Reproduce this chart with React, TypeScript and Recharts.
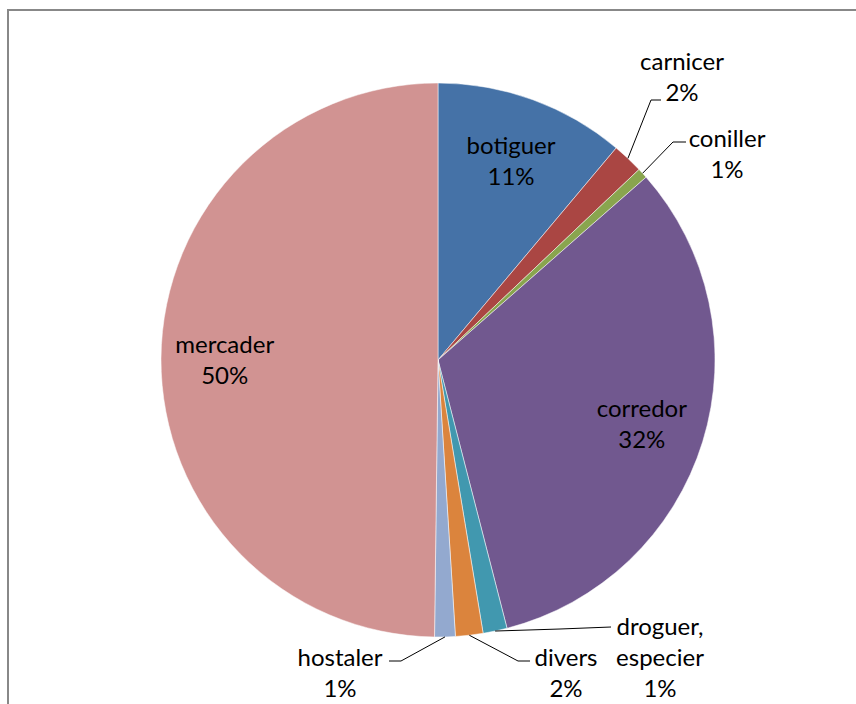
import React from 'react';
import { PieChart, Pie, Cell } from 'recharts';

const names = ['botiguer', 'carnicer', 'coniller', 'corredor', 'droguer, especier', 'divers', 'hostaler', 'mercader'];
const values = [11.1, 1.8, 0.6, 32.4, 1.4, 1.6, 1.2, 49.7];
const colors = ['#4572A7', '#AA4643', '#89A54E', '#71588F', '#4198AF', '#DB843D', '#93A9CF', '#D19392'];

const data = names.map((name, i) => ({ name, value: values[i] }));
const total = values.reduce((a, b) => a + b, 0);

const FONT = 'Lato, "Noto Sans", sans-serif';
const FS = 24;
const LINE = 31;

// outside labels: text anchor point, elbow of the leader line, line end
type Outside = { x: number; y: number; elbow: [number, number]; end: [number, number] };
const outside: Record<string, Outside> = {
  carnicer: { x: 682, y: 60, elbow: [651, 100], end: [661, 100] },
  coniller: { x: 727, y: 137, elbow: [673, 142], end: [686, 142] },
  'droguer, especier': { x: 660, y: 625, elbow: [560, 629], end: [611, 627] },
  divers: { x: 566, y: 656, elbow: [518, 661], end: [530, 661] },
  hostaler: { x: 340, y: 656, elbow: [401, 661], end: [389, 661] },
};

const RAD = Math.PI / 180;

function renderLabel(props: any) {
  const { cx, cy, midAngle, outerRadius, name, value, index } = props;
  const pct = `${Math.round((value / total) * 100)}%`;
  const o = outside[name];
  if (!o) {
    const r = outerRadius * 0.77;
    const x = cx + r * Math.cos(-midAngle * RAD);
    const y = cy + r * Math.sin(-midAngle * RAD);
    return (
      <g key={`l${index}`}>
        <text x={x} y={y - LINE / 2} textAnchor="middle" dominantBaseline="central" fill="#000" fontFamily={FONT} fontSize={FS}>{name}</text>
        <text x={x} y={y + LINE / 2} textAnchor="middle" dominantBaseline="central" fill="#000" fontFamily={FONT} fontSize={FS}>{pct}</text>
      </g>
    );
  }
  const sx = cx + outerRadius * Math.cos(-midAngle * RAD);
  const sy = cy + outerRadius * Math.sin(-midAngle * RAD);
  const lines = name === 'droguer, especier' ? ['droguer,', 'especier'] : [name];
  return (
    <g key={`l${index}`}>
      <polyline points={`${sx},${sy} ${o.elbow[0]},${o.elbow[1]} ${o.end[0]},${o.end[1]}`} fill="none" stroke="#000" strokeWidth={1} />
      {lines.map((t, k) => (
        <text key={k} x={o.x} y={o.y + k * LINE} textAnchor="middle" dominantBaseline="central" fill="#000" fontFamily={FONT} fontSize={FS}>{t}</text>
      ))}
      <text x={o.x} y={o.y + lines.length * LINE} textAnchor="middle" dominantBaseline="central" fill="#000" fontFamily={FONT} fontSize={FS}>{pct}</text>
    </g>
  );
}

export default function App() {
  return (
    <div style={{ position: 'fixed', left: 0, top: 0, width: 856, height: 704, overflow: 'hidden', background: '#fff' }}>
      <div style={{ position: 'absolute', left: 7, top: 9, width: 849, height: 2, background: '#888' }} />
      <div style={{ position: 'absolute', left: 7, top: 9, width: 2, height: 695, background: '#888' }} />
      <div style={{ position: 'absolute', left: 0, top: 0 }}>
        <PieChart width={856} height={704} margin={{ top: 0, right: 0, bottom: 0, left: 0 }}>
          <Pie
            data={data}
            dataKey="value"
            nameKey="name"
            cx={438}
            cy={360}
            outerRadius={277}
            startAngle={90}
            endAngle={-270}
            stroke="#fff"
            strokeWidth={0.5}
            label={renderLabel}
            labelLine={false}
            isAnimationActive={false}
          >
            {data.map((d, i) => (
              <Cell key={d.name} fill={colors[i]} />
            ))}
          </Pie>
        </PieChart>
      </div>
    </div>
  );
}
